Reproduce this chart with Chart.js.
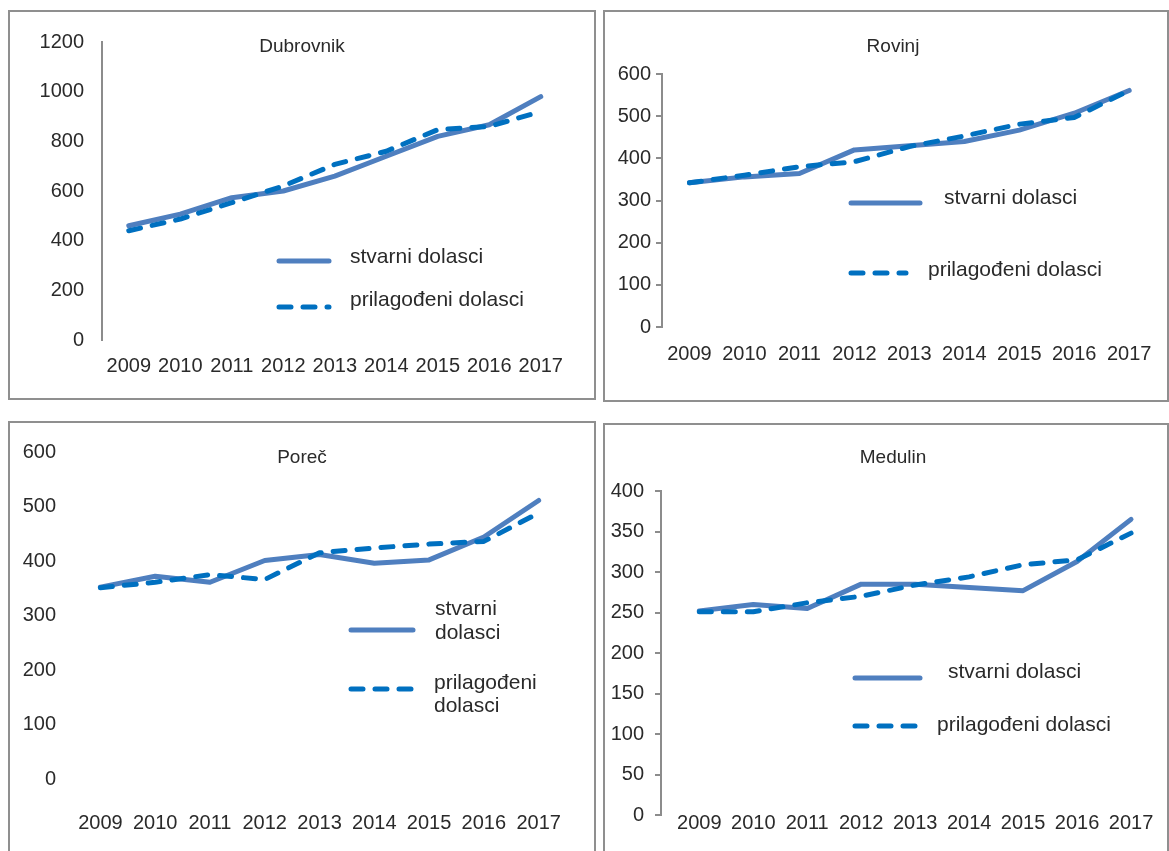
<!DOCTYPE html>
<html><head><meta charset="utf-8">
<script src="https://cdn.jsdelivr.net/npm/chart.js@4.4.1/dist/chart.umd.min.js"></script>
<style>
html,body{margin:0;padding:0;background:#fff;width:1169px;height:851px;overflow:hidden;position:relative}
.panel{position:absolute;box-sizing:border-box;border:2px solid #8f8f8f;background:#fff}
.panel canvas{display:block}
</style></head><body>
<div class="panel" style="left:8px;top:10px;width:588px;height:390px"><canvas id="c1" width="584" height="386"></canvas></div>
<div class="panel" style="left:603px;top:10px;width:566px;height:392px"><canvas id="c2" width="562" height="388"></canvas></div>
<div class="panel" style="left:8px;top:421px;width:588px;height:440px"><canvas id="c3" width="584" height="428"></canvas></div>
<div class="panel" style="left:603px;top:423px;width:566px;height:440px"><canvas id="c4" width="562" height="426"></canvas></div>
<script>
// ---- data ----
const years = [2009, 2010, 2011, 2012, 2013, 2014, 2015, 2016, 2017];
const seriesNames = ['stvarni dolasci', 'prilagođeni dolasci'];
const panelTitles = ['Dubrovnik', 'Rovinj', 'Poreč', 'Medulin'];

const dubrovnikActual   = [460, 507, 573, 600, 660, 740, 820, 867, 980];
const dubrovnikAdjusted = [440, 487, 553, 620, 707, 760, 847, 860, 920];
const rovinjActual      = [342, 356, 364, 420, 430, 440, 467, 507, 561];
const rovinjAdjusted    = [342, 360, 380, 392, 428, 453, 481, 497, 561];
const porecActual       = [352, 372, 361, 401, 412, 396, 402, 444, 511];
const porecAdjusted     = [351, 361, 375, 366, 415, 424, 431, 436, 488];
const medulinActual     = [252, 260, 255, 285, 285, 281, 277, 313, 365];
const medulinAdjusted   = [251, 251, 262, 270, 284, 294, 309, 315, 348];

const dubrovnikTicks = [0, 200, 400, 600, 800, 1000, 1200];
const rovinjTicks    = [0, 100, 200, 300, 400, 500, 600];
const porecTicks     = [0, 100, 200, 300, 400, 500, 600];
const medulinTicks   = [0, 50, 100, 150, 200, 250, 300, 350, 400];

// ---- styling ----
const FONT = '"Liberation Sans", Arial, sans-serif';
const TEXT = '#2a2a2a';
const SOLID = '#4f7fbf';
const DASHED = '#0070c0';
const AXIS = '#8c8c8c';

function pts(vals) { return years.map((y, i) => ({ x: y, y: vals[i] })); }

function makeDecor(cfg) {
  return {
    id: 'decor',
    afterDatasetsDraw(chart) {
      const ctx = chart.ctx, ox = cfg.ox, oy = cfg.oy;
      ctx.save();
      ctx.fillStyle = TEXT;
      ctx.font = cfg.titleSize + 'px ' + FONT;
      ctx.textAlign = 'center';
      ctx.textBaseline = 'middle';
      ctx.fillText(cfg.title.text, cfg.title.x - ox, cfg.title.y - oy);
      cfg.legend.forEach(item => {
        const ds = chart.data.datasets[item.ds];
        ctx.beginPath();
        ctx.strokeStyle = ds.borderColor;
        ctx.lineWidth = ds.borderWidth;
        ctx.lineCap = ds.borderCapStyle || 'butt';
        ctx.setLineDash(ds.borderDash || []);
        ctx.moveTo(item.x1 - ox, item.y - oy);
        ctx.lineTo(item.x2 - ox, item.y - oy);
        ctx.stroke();
        ctx.setLineDash([]);
        ctx.fillStyle = TEXT;
        ctx.font = cfg.legendSize + 'px ' + FONT;
        ctx.textAlign = 'left';
        ctx.textBaseline = 'middle';
        const words = item.wrap ? ds.label.split(' ') : [ds.label];
        const lh = item.lh || 0;
        words.forEach((w, k) => ctx.fillText(w, item.tx - ox, item.ty + k * lh - oy));
      });
      ctx.restore();
    }
  };
}

function makeChart(id, cfg, actual, adjusted, ticksArr) {
  const yMax = ticksArr[ticksArr.length - 1];
  const step = ticksArr[1] - ticksArr[0];
  return new Chart(document.getElementById(id), {
    type: 'line',
    data: {
      datasets: [
        { label: seriesNames[0], data: pts(actual), borderColor: SOLID, borderWidth: 5,
          borderCapStyle: 'round', borderJoinStyle: 'round', pointRadius: 0, tension: 0, order: 1, fill: false },
        { label: seriesNames[1], data: pts(adjusted), borderColor: DASHED, borderWidth: 5,
          borderDash: [12, 12], borderCapStyle: 'round', borderJoinStyle: 'round', pointRadius: 0, tension: 0, order: 0, fill: false }
      ]
    },
    options: {
      responsive: false,
      animation: false,
      devicePixelRatio: 1,
      layout: { padding: { left: 0, top: cfg.area.top - cfg.oy, right: (cfg.ox + cfg.w) - cfg.area.right, bottom: 0 } },
      plugins: { legend: { display: false }, title: { display: false }, tooltip: { enabled: false } },
      scales: {
        x: {
          type: 'linear', min: cfg.xmin, max: cfg.xmax,
          grid: { display: false, drawTicks: false },
          border: { display: false },
          afterBuildTicks: s => { s.ticks = years.map(v => ({ value: v })); },
          afterFit: s => { s.height = (cfg.oy + cfg.h) - cfg.area.bottom; },
          ticks: { color: TEXT, font: { family: FONT, size: cfg.tickSize }, padding: cfg.xPad,
                   maxRotation: 0, autoSkip: false, callback: v => String(v) }
        },
        y: {
          min: 0, max: yMax,
          afterBuildTicks: s => { s.ticks = ticksArr.map(v => ({ value: v })); },
          afterFit: s => { s.width = cfg.area.left - cfg.ox; },
          grid: { display: cfg.tickMarks, drawOnChartArea: false, drawTicks: cfg.tickMarks, tickLength: 6,
                  color: AXIS, lineWidth: 2 },
          border: { display: cfg.axisLine, color: AXIS, width: 2 },
          ticks: { color: TEXT, font: { family: FONT, size: cfg.tickSize }, padding: cfg.yPad,
                   stepSize: step, callback: v => String(v) }
        }
      }
    },
    plugins: [makeDecor(cfg)]
  });
}

makeChart('c1', {
  ox: 10, oy: 12, w: 584, h: 386,
  area: { left: 102, top: 40, right: 566.5, bottom: 340 }, xmin: 2008.48, xmax: 2017.5,
  axisLine: true, tickMarks: false, yPad: 18, xPad: 14, tickSize: 20, titleSize: 19, legendSize: 21,
  title: { text: panelTitles[0], x: 302, y: 47 },
  legend: [
    { ds: 0, x1: 279, x2: 329, y: 261, tx: 350, ty: 257 },
    { ds: 1, x1: 279, x2: 329, y: 307, tx: 350, ty: 300 }
  ]
}, dubrovnikActual, dubrovnikAdjusted, dubrovnikTicks);

makeChart('c2', {
  ox: 605, oy: 12, w: 562, h: 388,
  area: { left: 662, top: 74, right: 1157, bottom: 327 }, xmin: 2008.5, xmax: 2017.5,
  axisLine: true, tickMarks: true, yPad: 5, xPad: 15, tickSize: 20, titleSize: 19, legendSize: 21,
  title: { text: panelTitles[1], x: 893, y: 47 },
  legend: [
    { ds: 0, x1: 851, x2: 920, y: 203, tx: 944, ty: 198 },
    { ds: 1, x1: 851, x2: 906, y: 273, tx: 928, ty: 270 }
  ]
}, rovinjActual, rovinjAdjusted, rovinjTicks);

makeChart('c3', {
  ox: 10, oy: 423, w: 584, h: 428,
  area: { left: 73, top: 452, right: 574, bottom: 779 }, xmin: 2008.5, xmax: 2017.5,
  axisLine: false, tickMarks: false, yPad: 17, xPad: 32, tickSize: 20, titleSize: 19, legendSize: 21,
  title: { text: panelTitles[2], x: 302, y: 458 },
  legend: [
    { ds: 0, x1: 351, x2: 413, y: 630, tx: 435, ty: 609, wrap: true, lh: 24 },
    { ds: 1, x1: 351, x2: 413, y: 689, tx: 434, ty: 683, wrap: true, lh: 23 }
  ]
}, porecActual, porecAdjusted, porecTicks);

makeChart('c4', {
  ox: 605, oy: 425, w: 562, h: 426,
  area: { left: 661, top: 491, right: 1158, bottom: 815 }, xmin: 2008.29, xmax: 2017.5,
  axisLine: true, tickMarks: true, yPad: 11, xPad: -4, tickSize: 20, titleSize: 19, legendSize: 21,
  title: { text: panelTitles[3], x: 893, y: 458 },
  legend: [
    { ds: 0, x1: 855, x2: 920, y: 678, tx: 948, ty: 672 },
    { ds: 1, x1: 855, x2: 915, y: 726, tx: 937, ty: 725 }
  ]
}, medulinActual, medulinAdjusted, medulinTicks);
</script>
</body></html>
